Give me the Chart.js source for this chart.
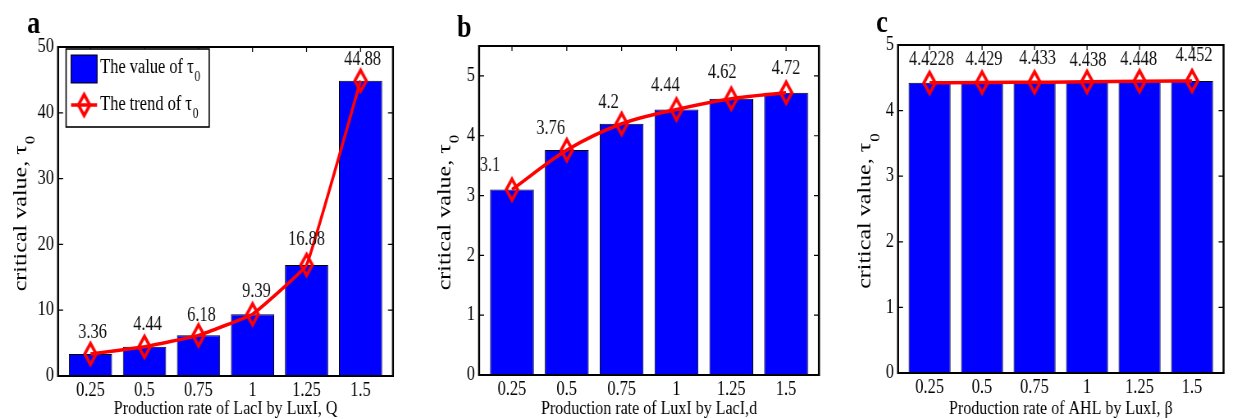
<!DOCTYPE html>
<html>
<head>
<meta charset="utf-8">
<title>critical value τ0</title>
<script src="https://cdn.jsdelivr.net/npm/chart.js@4.4.1/dist/chart.umd.min.js"></script>
<style>
  html, body { margin: 0; padding: 0; background: #fff; }
  #fig { position: relative; width: 1233px; height: 419px; overflow: hidden; }
  #fig canvas { position: absolute; top: 0; }
</style>
</head>
<body>
<div id="fig">
  <canvas id="panelA"></canvas>
  <canvas id="panelB"></canvas>
  <canvas id="panelC"></canvas>
</div>
<script>
// production rates on the x axis (same for all three panels)
const rateLabels = ['0.25', '0.5', '0.75', '1', '1.25', '1.5'];
// critical value tau_0 for each panel
const tauByQ = [3.36, 4.44, 6.18, 9.39, 16.88, 44.88];
const tauByD = [3.1, 3.76, 4.2, 4.44, 4.62, 4.72];
const tauByBeta = [4.4228, 4.429, 4.433, 4.438, 4.448, 4.452];

const SERIF = "'Liberation Serif', 'Times New Roman', serif";
const BAR_BLUE = '#0000ff';
const LINE_RED = '#ff0000';
const SX = 0.82;            // the figure is drawn slightly narrow: canvases are squeezed in x
const px = v => v / SX;     // page px (horizontal) -> canvas px

// open diamond marker, a bit taller than wide
const diamond = document.createElement('canvas');
diamond.width = 22; diamond.height = 30;
(function () {
  const g = diamond.getContext('2d');
  g.strokeStyle = LINE_RED; g.lineWidth = 3.5; g.lineJoin = 'miter';
  g.beginPath();
  g.moveTo(11, 4.5); g.lineTo(18, 15); g.lineTo(11, 25.5); g.lineTo(4, 15); g.closePath();
  g.stroke();
})();

// text with a subscript, e.g. tau_0
function subText(ctx, main, sub, x, y, size) {
  ctx.font = size + 'px ' + SERIF;
  ctx.fillText(main, x, y);
  const w = ctx.measureText(main).width;
  ctx.font = Math.round(size * 0.72) + 'px ' + SERIF;
  ctx.fillText(sub, x + w + 1, y + size * 0.42);
}
function subWidth(ctx, main, sub, size) {
  ctx.font = size + 'px ' + SERIF;
  const w = ctx.measureText(main).width;
  ctx.font = Math.round(size * 0.72) + 'px ' + SERIF;
  return w + 1 + ctx.measureText(sub).width;
}

const decor = {
  id: 'decor',
  beforeDatasetsDraw(chart, args, o) {
    // inward tick marks on all four sides
    const { ctx, chartArea: a, scales: { x, y } } = chart;
    ctx.save();
    ctx.strokeStyle = '#000';
    ctx.lineWidth = 1.2;
    ctx.beginPath();
    x.ticks.forEach(t => {
      const p = x.getPixelForValue(t.value);
      ctx.moveTo(p, a.top); ctx.lineTo(p, a.top + 5);
      ctx.moveTo(p, a.bottom); ctx.lineTo(p, a.bottom - 5);
    });
    y.ticks.forEach(t => {
      const p = y.getPixelForValue(t.value);
      ctx.moveTo(a.left, p); ctx.lineTo(a.left + px(5), p);
      ctx.moveTo(a.right, p); ctx.lineTo(a.right - px(5), p);
    });
    ctx.stroke();
    ctx.restore();
  },
  afterDatasetsDraw(chart, args, o) {
    const { ctx, chartArea: a } = chart;
    ctx.save();

    // axes box
    ctx.strokeStyle = '#000';
    ctx.lineWidth = 2;
    ctx.beginPath();
    ctx.moveTo(a.left, a.top); ctx.lineTo(a.right, a.top);
    ctx.moveTo(a.left, a.bottom); ctx.lineTo(a.right, a.bottom);
    ctx.stroke();
    ctx.lineWidth = px(2);
    ctx.beginPath();
    ctx.moveTo(a.left, a.top - 1); ctx.lineTo(a.left, a.bottom + 1);
    ctx.moveTo(a.right, a.top - 1); ctx.lineTo(a.right, a.bottom + 1);
    ctx.stroke();

    // value labels above the trend markers
    const meta = chart.getDatasetMeta(0);
    const vals = chart.data.datasets[0].data;
    ctx.fillStyle = '#111';
    ctx.font = '20px ' + SERIF;
    ctx.textAlign = 'center';
    ctx.textBaseline = 'middle';
    meta.data.forEach((pt, i) => {
      const s = o.labelShift[i];
      ctx.fillText(String(vals[i].y), pt.x + px(s[0]), pt.y + s[1]);
    });

    // y axis title, rotated
    ctx.textAlign = 'left';
    ctx.textBaseline = 'alphabetic';
    ctx.fillStyle = '#000';
    const ts = 24;
    const tw = subWidth(ctx, 'critical value, τ', '0', ts);
    ctx.save();
    ctx.translate(px(o.yTitleX), (a.top + a.bottom) / 2 + 2);
    ctx.rotate(-Math.PI / 2);
    subText(ctx, 'critical value, τ', '0', -tw / 2, ts * 0.34, ts);
    ctx.restore();

    // panel letter
    ctx.font = 'bold 32px ' + SERIF;
    ctx.fillText(o.letter, px(o.letterPos[0]), o.letterPos[1]);

    // legend box (first panel only)
    if (o.legend) {
      const L = px(66), T = 49, R = px(209), B = 127;
      ctx.fillStyle = '#fff';
      ctx.fillRect(L, T, R - L, B - T);
      ctx.strokeStyle = '#000';
      ctx.lineWidth = 1.6;
      ctx.strokeRect(L, T, R - L, B - T);
      ctx.fillStyle = BAR_BLUE;
      ctx.fillRect(px(71), 55, px(26), 28);
      ctx.lineWidth = 1;
      ctx.strokeRect(px(71), 55, px(26), 28);
      ctx.strokeStyle = LINE_RED;
      ctx.lineWidth = 3.5;
      ctx.beginPath();
      ctx.moveTo(px(71), 105); ctx.lineTo(px(97), 105);
      ctx.stroke();
      ctx.drawImage(diamond, px(84) - diamond.width / 2, 105 - diamond.height / 2);
      ctx.fillStyle = '#000';
      subText(ctx, 'The value of τ', '0', px(100), 73, 20);
      subText(ctx, 'The trend of τ', '0', px(100), 110, 20);
    }
    ctx.restore();
  }
};

const panels = [
  { id: 'panelA', letter: 'a', values: tauByQ, yMax: 50, yStep: 10,
    xTitle: 'Production rate of LacI by LuxI, Q', smooth: 'straight',
    left: 0, width: 412, area: [58, 47, 393, 376], yTitleX: 19.5, letterPos: [27, 33], legend: true,
    labelShift: [[2, -21], [3, -22], [3, -20], [4, -22], [0, -25], [2, -21]] },
  { id: 'panelB', letter: 'b', values: tauByD, yMax: 5.5, yStep: 1,
    xTitle: 'Production rate of LuxI by LacI,d', smooth: 'monotone',
    left: 420, width: 412, area: [59, 46, 399, 375], yTitleX: 23.5, letterPos: [37, 37], legend: false,
    labelShift: [[-22, -24], [-16, -21], [-13, -21], [-11, -24], [-9, -26], [0, -24]] },
  { id: 'panelC', letter: 'c', values: tauByBeta, yMax: 5, yStep: 1,
    xTitle: 'Production rate of AHL by LuxI, β', smooth: 'monotone',
    left: 840, width: 393, area: [58, 45, 392, 373], yTitleX: 24, letterPos: [36, 32], legend: false,
    labelShift: [[2, -23], [2, -23], [3, -23], [1, -21], [-1, -21], [2, -25]] }
];

panels.forEach(p => {
  const cv = document.getElementById(p.id);
  cv.width = Math.round(px(p.width));
  cv.height = 419;
  cv.style.left = p.left + 'px';
  cv.style.width = p.width + 'px';
  cv.style.height = '419px';

  const [aL, aT, aR, aB] = p.area;
  const points = p.values.map((v, i) => ({ x: i + 1, y: v }));

  new Chart(cv.getContext('2d'), {
    type: 'bar',
    data: {
      datasets: [{
        type: 'line',
        data: points,
        borderColor: LINE_RED,
        borderWidth: 3.5,
        cubicInterpolationMode: p.smooth === 'monotone' ? 'monotone' : 'default',
        tension: p.smooth === 'monotone' ? 0.4 : 0.08,
        pointStyle: diamond,
        pointRadius: 8,
        fill: false,
        order: 0
      }, {
        type: 'bar',
        data: points,
        backgroundColor: BAR_BLUE,
        borderColor: '#000',
        borderWidth: 1,
        barPercentage: 0.8,
        categoryPercentage: 1,
        order: 1
      }]
    },
    options: {
      responsive: false,
      devicePixelRatio: 1,
      animation: false,
      events: [],
      layout: { padding: { top: aT, right: px(p.width - aR), left: 0, bottom: 0 } },
      plugins: {
        legend: { display: false },
        tooltip: { enabled: false },
        decor: { letter: p.letter, letterPos: p.letterPos, yTitleX: p.yTitleX,
                 legend: p.legend, labelShift: p.labelShift }
      },
      scales: {
        x: {
          type: 'linear',
          min: 0.4,
          max: 6.6,
          offset: false,
          grid: { display: false, drawTicks: false },
          border: { display: false },
          afterBuildTicks: s => { s.ticks = rateLabels.map((_, i) => ({ value: i + 1 })); },
          afterFit: s => { s.height = 419 - aB; },
          ticks: {
            autoSkip: false,
            maxRotation: 0,
            padding: 3,
            color: '#000',
            font: { family: SERIF, size: 20 },
            callback: v => rateLabels[Math.round(v) - 1]
          },
          title: {
            display: true,
            text: p.xTitle,
            color: '#000',
            padding: 0,
            font: { family: SERIF, size: 19.5, lineHeight: 1 }
          }
        },
        y: {
          min: 0,
          max: p.yMax,
          grid: { display: false, drawTicks: false },
          border: { display: false },
          afterFit: s => { s.width = px(aL); },
          ticks: {
            stepSize: p.yStep,
            includeBounds: false,
            padding: px(4),
            color: '#000',
            font: { family: SERIF, size: 20 }
          }
        }
      }
    },
    plugins: [decor]
  });
});
</script>
</body>
</html>
